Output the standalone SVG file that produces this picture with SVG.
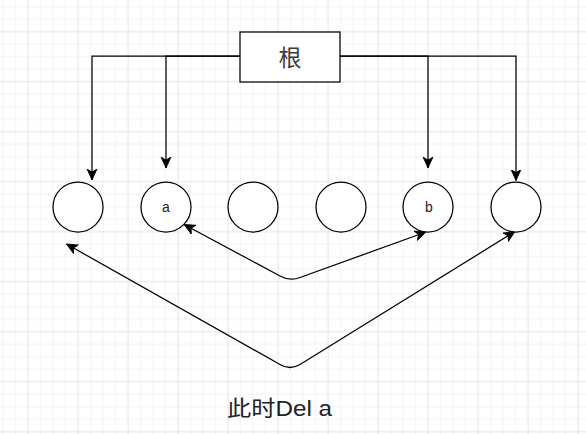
<svg xmlns="http://www.w3.org/2000/svg" width="586" height="434" viewBox="0 0 586 434">
  <style>
    .edge { fill: none; stroke: #000; stroke-width: 1.25; }
    .node { fill: #fff; stroke: #000; stroke-width: 1.25; }
    .lbl { font-family: "Liberation Sans", "Noto Sans CJK SC", sans-serif; fill: #222; }
    .cjk { font-family: "Noto Sans CJK SC", sans-serif; fill: #3a3a3a; }
  </style>
  <defs>
    <pattern id="grid" patternUnits="userSpaceOnUse" x="-3.25" y="0.45" width="50" height="50">
      <path d="M6.25,0V50M18.75,0V50M43.75,0V50M0,6.25H50M0,18.75H50M0,43.75H50" stroke="#f2f2f2" stroke-width="1" fill="none"/>
      <path d="M31.25,0V50M0,31.25H50" stroke="#e3e3e3" stroke-width="1" fill="none"/>
    </pattern>
    <marker id="arr" markerUnits="userSpaceOnUse" viewBox="-11 -6 12 12" refX="0" refY="0" markerWidth="12" markerHeight="12" orient="auto-start-reverse">
      <path d="M0,0 L-11,-5 L-8,0 L-11,5 Z" fill="#000" stroke="#000" stroke-width="0.8" stroke-linejoin="miter"/>
    </marker>
  </defs>
  <rect width="586" height="434" fill="#fff"/>
  <rect width="586" height="434" fill="url(#grid)"/>

  <g id="connectors">
    <path class="edge" d="M240,56 H92 V180" marker-end="url(#arr)"/>
    <path class="edge" d="M240,56 H166 V168" marker-end="url(#arr)"/>
    <path class="edge" d="M340,56 H428 V168" marker-end="url(#arr)"/>
    <path class="edge" d="M340,56 H516 V180.5" marker-end="url(#arr)"/>
    <path class="edge" d="M184,224.5 L280,276 Q290,281.5 300,277.5 L426,232" marker-start="url(#arr)" marker-end="url(#arr)"/>
    <path class="edge" d="M66.5,244 L280,364.5 Q290,370.5 300,364.5 L515,231.5" marker-start="url(#arr)" marker-end="url(#arr)"/>
  </g>

  <g id="root">
    <rect class="node" x="240" y="32" width="100" height="50"/>
    <text class="cjk" x="290" y="66" font-size="23" text-anchor="middle">根</text>
  </g>
  <g id="n1"><circle class="node" cx="78" cy="207" r="25"/></g>
  <g id="n2">
    <circle class="node" cx="166" cy="207" r="25"/>
    <text class="lbl" x="166" y="211.5" font-size="14" text-anchor="middle">a</text>
  </g>
  <g id="n3"><circle class="node" cx="253" cy="207" r="25"/></g>
  <g id="n4"><circle class="node" cx="341" cy="207" r="25"/></g>
  <g id="n5">
    <circle class="node" cx="428" cy="207" r="25"/>
    <text class="lbl" x="429" y="211.5" font-size="14" text-anchor="middle">b</text>
  </g>
  <g id="n6"><circle class="node" cx="516" cy="207" r="25"/></g>

  <g id="caption">
    <text class="lbl" x="227" y="416" font-size="21.5" textLength="105" lengthAdjust="spacingAndGlyphs">此时Del a</text>
  </g>
</svg>
